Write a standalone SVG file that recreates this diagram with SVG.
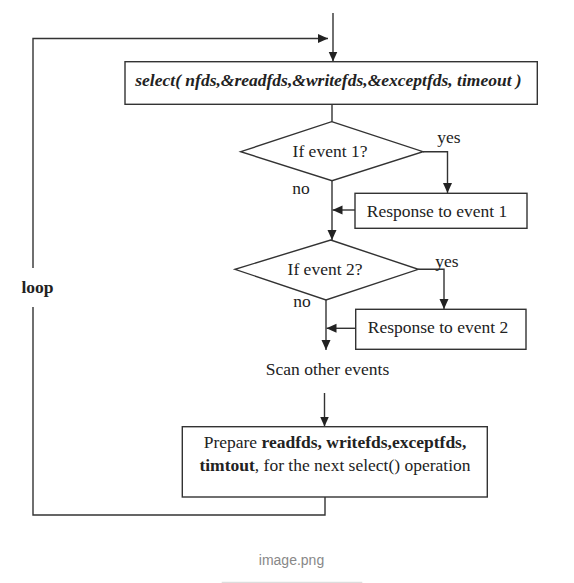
<svg xmlns="http://www.w3.org/2000/svg" width="574" height="583" viewBox="0 0 574 583">
<defs>
<marker id="ah" viewBox="0 0 10 10" refX="10" refY="5" markerWidth="10" markerHeight="10" markerUnits="userSpaceOnUse" orient="auto">
<path d="M0,0.5 L10,5 L0,9.5 z" fill="#222"/>
</marker>
</defs>
<style>
.ln{fill:none;stroke:#333;stroke-width:1.4}
.bx{fill:#fff;stroke:#333;stroke-width:1.4}
.t{font-family:"Liberation Serif","Times New Roman",serif;font-size:17.5px;fill:#222}
.b{font-weight:bold}
.cap{font-family:"Liberation Sans",Arial,sans-serif;font-size:14px;fill:#888}
</style>
<rect width="574" height="583" fill="#fff"/>
<g id="connectors">
<line class="ln" x1="333" y1="13" x2="333" y2="61.5" marker-end="url(#ah)"/>
<polyline class="ln" points="325,495 325,515 33,515 33,307"/>
<polyline class="ln" points="33,268 33,38.5 328,38.5" marker-end="url(#ah)"/>
<line class="ln" x1="332" y1="104.5" x2="332" y2="121.7"/>
<polyline class="ln" points="423,151.7 447.5,151.7 447.5,193" marker-end="url(#ah)"/>
<line class="ln" x1="332" y1="180.7" x2="332" y2="240" marker-end="url(#ah)"/>
<line class="ln" x1="355" y1="210" x2="332.5" y2="210" marker-end="url(#ah)"/>
<polyline class="ln" points="418.3,269.3 444,269.3 444,309" marker-end="url(#ah)"/>
<line class="ln" x1="326" y1="300" x2="326" y2="350" marker-end="url(#ah)"/>
<line class="ln" x1="355.7" y1="328.3" x2="326.5" y2="328.3" marker-end="url(#ah)"/>
<line class="ln" x1="324.5" y1="393" x2="324.5" y2="426.5" marker-end="url(#ah)"/>
</g>
<g id="select-box">
<rect class="bx" x="125" y="61.7" width="412.3" height="42.6"/>
<text class="t b" x="328.5" y="86" text-anchor="middle" font-style="italic" font-size="16.3">select( nfds,&amp;readfds,&amp;writefds,&amp;exceptfds, timeout )</text>
</g>
<g id="decision-1">
<polygon class="bx" points="331.7,121.7 423,151.7 332,180.7 240.7,151.7"/>
<text class="t" x="330" y="157" text-anchor="middle">If event 1?</text>
<text class="t" x="449" y="143" text-anchor="middle">yes</text>
<text class="t" x="301" y="194" text-anchor="middle">no</text>
</g>
<g id="response-1">
<rect class="bx" x="355" y="193.3" width="172" height="35"/>
<text class="t" x="437" y="216.5" text-anchor="middle">Response to event 1</text>
</g>
<g id="decision-2">
<polygon class="bx" points="330.7,240 418.3,269.3 326,300 235,269.3"/>
<text class="t" x="325" y="275" text-anchor="middle">If event 2?</text>
<text class="t" x="447" y="266.5" text-anchor="middle">yes</text>
<text class="t" x="302" y="307" text-anchor="middle">no</text>
</g>
<g id="response-2">
<rect class="bx" x="355.7" y="309.3" width="170.3" height="40"/>
<text class="t" x="438" y="333" text-anchor="middle">Response to event 2</text>
</g>
<g id="scan">
<text class="t" x="327.5" y="375" text-anchor="middle">Scan other events</text>
</g>
<g id="prepare-box">
<rect class="bx" x="182.3" y="426.7" width="305" height="70.3"/>
<text class="t" x="335" y="448" text-anchor="middle">Prepare <tspan class="b">readfds, writefds,exceptfds,</tspan></text>
<text class="t" x="335" y="470.5" text-anchor="middle"><tspan class="b">timtout</tspan>, for the next select() operation</text>
</g>
<g id="loop-label">
<text class="t b" x="37.5" y="293" text-anchor="middle">loop</text>
</g>
<g id="caption">
<text class="cap" x="291.5" y="565" text-anchor="middle">image.png</text>
<line x1="221.7" y1="582.3" x2="362.3" y2="582.3" stroke="#ddd" stroke-width="1.2"/>
</g>
</svg>
